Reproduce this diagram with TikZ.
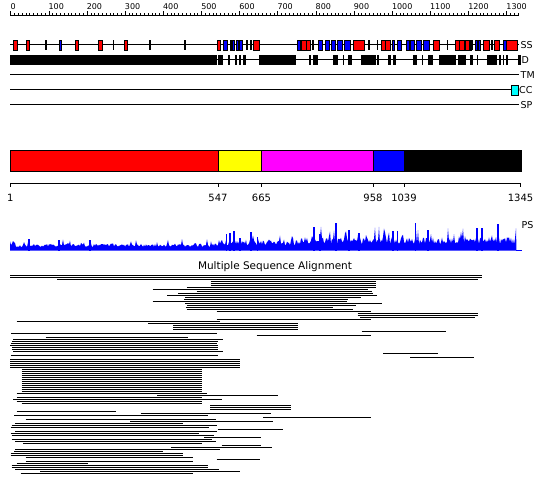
\documentclass[tikz,border=0pt]{standalone}
\usepackage{fontspec}
\setmainfont{DejaVu Sans}
\definecolor{pR}{RGB}{255,0,0}
\definecolor{pB}{RGB}{0,0,255}
\definecolor{pY}{RGB}{255,255,0}
\definecolor{pM}{RGB}{255,0,255}
\definecolor{pC}{RGB}{0,255,255}
\tikzset{
  trk/.style={line width=1pt, black},
  ssR/.style={fill=pR, draw=black, line width=0.8pt},
  ssB/.style={fill=pB, draw=black, line width=0.8pt},
  blkbox/.style={fill=black},
  tlab/.style={anchor=west, inner sep=0pt, font=\fontsize{9.5}{10}\selectfont},
  rlab/.style={anchor=south west, inner sep=0pt, font=\fontsize{8}{9}\selectfont},
  dlab/.style={anchor=center, inner sep=0pt, font=\fontsize{10}{11}\selectfont},
  msa/.style={line width=1pt, black},
  dom/.style={draw=black, line width=0.8pt},
}
\begin{document}
\begin{tikzpicture}[x=1pt,y=-1pt]
\useasboundingbox (0,0) rectangle (550,495);
\fill[white] (0,0) rectangle (550,495);

% ---- ruler ----
\draw[trk] (10,15.5) -- (519,15.5);
\foreach \r in {0,10,...,1330} \draw[line width=0.8pt] ({10.8+0.3815*\r},15.5) -- ++(0,-2.5);
\foreach \r in {0,100,...,1300} {
  \draw[line width=0.8pt] ({10.8+0.3815*\r},15.5) -- ++(0,-4);
  \node[rlab, name=rl\r] at ({10.3+0.3815*\r},10.3) {\r};
}

% ---- tracks ----
\draw[trk] (10,45) -- (519,45);
\draw[trk] (10,60) -- (519,60);
\draw[trk] (10,75) -- (519,75);
\draw[trk] (10,90) -- (519,90);
\draw[trk] (10,105) -- (519,105);

% SS red
\foreach \a/\b in {13.3/17.3, 26/29.7, 75.3/78.7, 98/102, 124.3/127.7, 217.3/220.7, 253.3/259.3, 301.3/306, 306/310.7, 353.3/364.3, 381.3/385, 385.7/390, 433.3/439.3, 455.3/459, 459.7/464, 465/469.3, 483.3/489, 494.3/499.3, 506.7/517.3}
  \filldraw[ssR] (\a,40) rectangle (\b,50);
% SS blue
\foreach \a/\b in {59.3/61.7, 223.3/227.7, 230/231.7, 232.7/234.7, 236.3/238.7, 239.7/242.7, 297.3/300, 318.3/322.3, 325/329.3, 331/335.7, 337.7/342.7, 344.3/350, 392/394, 397.3/401.3, 406/409.3, 410.7/414, 416.7/421.7, 423.7/429, 470/471.3, 475.3/477.7, 478.7/480.7, 503.3/506}
  \filldraw[ssB] (\a,40) rectangle (\b,50);
% SS black marks
\foreach \a in {45.7, 113.3, 150, 185, 312.7, 368.7, 377.3, 447.3, 472.5, 491.7}
  \fill[blkbox] ({\a-0.8},40) rectangle ({\a+0.8},50);
\foreach \a/\b in {245.7/248.3, 250/252.3}
  \fill[blkbox] (\a,40) rectangle (\b,50);

% D boxes
\foreach \a/\b in {10/216.7, 218.3/222.7, 228.3/229.7, 235/237, 239.3/241, 242.7/245.7, 259.3/295.7, 309.3/310.7, 312.7/318.3, 333.3/337.7, 342.7/344, 348.3/351.7, 361/376, 377.3/378.7, 388.3/390.7, 393.3/396, 413/417, 422/423.3, 428/433.3, 439/455.7, 458/466, 470/473.3, 476.6/478, 486.7/496.7, 499.3/501.3, 502.7/504, 505.7/508, 518/520.7}
  \fill[blkbox] (\a,55) rectangle (\b,65.5);

% CC box
\filldraw[fill=pC, draw=black, line width=0.8pt] (511,85.5) rectangle (518.3,95);

\node[tlab, name=lSS] at (520.5,45) {SS};
\node[tlab, name=lD]  at (521.5,60) {D};
\node[tlab, name=lTM] at (520.5,75) {TM};
\node[tlab, name=lCC] at (519,90) {CC};
\node[tlab, name=lSP] at (520.5,105) {SP};

% ---- domain bar ----
\filldraw[dom, fill=pR] (10,150.5) rectangle (218,171);
\filldraw[dom, fill=pY] (218,150.5) rectangle (261.5,171);
\filldraw[dom, fill=pM] (261.5,150.5) rectangle (373,171);
\filldraw[dom, fill=pB] (373,150.5) rectangle (404,171);
\filldraw[dom, fill=black] (404,150.5) rectangle (521,171);

\draw[line width=0.8pt] (10,183) -- (521,183);
\foreach \x/\t in {10.4/1, 218/547, 261.5/665, 373/958, 404/1039, 520.6/1345} {
  \draw[line width=0.8pt] (\x,183) -- (\x,187.5);
  \node[dlab, name=dl\t] at (\x,198) {\t};
}

% ---- PS profile ----
\pgfmathsetseed{7}
\fill[pB] (10,250.5) \foreach \x in {10,...,516} { -- (\x,{250.5-(\x<218 ? 3.5+3.2*rnd+6*rnd^12 : (\x<300 ? 5+6*rnd+12*rnd^12 : 6+7.5*rnd+13*rnd^10))}) } -- (516.5,250.5) -- cycle;
\foreach \x/\y in {29/238.7, 59/240, 90/240, 226.7/234, 230/232.7, 234/231, 240/237.7, 251/232, 257.7/237, 314/227, 320/234.3, 336/222.7, 349/230, 359/232.7, 393/231, 397.7/231, 415.7/222.7, 428/230, 477/227.7, 482/227.7, 498/224.3}
  \fill[pB] ({\x-0.7},250.5) rectangle ({\x+0.7},\y);
\fill[pB] (516,249.5) rectangle (521.5,250.5);
\node[tlab, name=lPS] at (521.5,225.5) {PS};

% ---- MSA ----
\node[anchor=center, inner sep=0pt, font=\fontsize{10.5}{11}\selectfont, name=msat] at (275,266.5) {Multiple Sequence Alignment};
\foreach \k/\a/\b in {
0/10/482.3, 1/10/482.3, 2/57.3/478.3, 3/210.7/375.7, 4/210.7/375.7, 5/210.7/375.7,
6/186.7/375.7, 7/152.7/368.3, 8/196.7/372.3, 9/178.3/373, 10/167.3/377.3, 11/185/361,
12/184/348.3, 13/152.7/346.7, 14/185/381.7, 15/186.7/355.7, 16/186/333.3, 17/186.7/353.3,
18/216.7/370.7, 19/357.7/477.7, 20/357.7/477.7, 21/360/475, 22/216.7/370.7, 23/16.7/220,
24/148.3/298.3, 25/173.3/298.3, 26/173.3/298.3, 27/173.3/298.3, 28/361.7/445.7, 29/11/216.7,
30/256.7/370.7, 31/45.7/187.7, 32/13.3/223.3, 33/12.3/218.3, 34/11/217.3, 35/10/218.3,
36/12.3/217.7, 37/12.3/217.7, 38/13.3/223.3, 39/383.3/438.3, 40/11/217.7, 41/410/474.3,
42/10/240, 43/10/240, 44/10/240, 45/10/240, 46/10/240, 47/21.7/201.7,
48/21.7/201.7, 49/21.7/201.7, 50/21.7/201.7, 51/21.7/201.7, 52/21.7/201.7, 53/21.7/201.7,
54/21.7/201.7, 55/21.7/201.7, 56/21.7/201.7, 57/21.7/201.7, 58/21.7/201.7, 59/16.7/207.3,
60/157.3/277.7, 61/16.7/201.7, 62/13.3/222.3, 63/16.7/201.7, 64/21.7/201.7, 65/210/290.7,
66/210/290.7, 67/210/290.7, 68/16.7/116, 69/140.7/270.7, 70/14.3/208.3, 71/263.3/370.7,
72/25.7/215.7, 73/130/273.3, 74/15/183.3, 75/11.7/216.7, 76/10.7/209, 77/217.7/283.3,
78/15/217.3, 79/10.7/199.3, 80/11.7/214.3, 81/204.3/260.7, 82/11.7/212.3, 83/15/215.7,
84/23.3/201.7, 85/221.7/260.7, 86/170.7/272.3, 87/15/220, 88/14.3/163.3, 89/10.7/182.7,
90/10.7/182.7, 91/25.7/192.7, 92/216.7/260, 93/25.7/192.7, 94/16.7/87.7, 95/11.7/207.7,
96/11.7/207.7, 97/15/219.3, 98/40/240, 99/20.7/193.3}
  \draw[msa] (\a,{275.5+2*\k}) -- (\b,{275.5+2*\k});
\end{tikzpicture}
\end{document}
